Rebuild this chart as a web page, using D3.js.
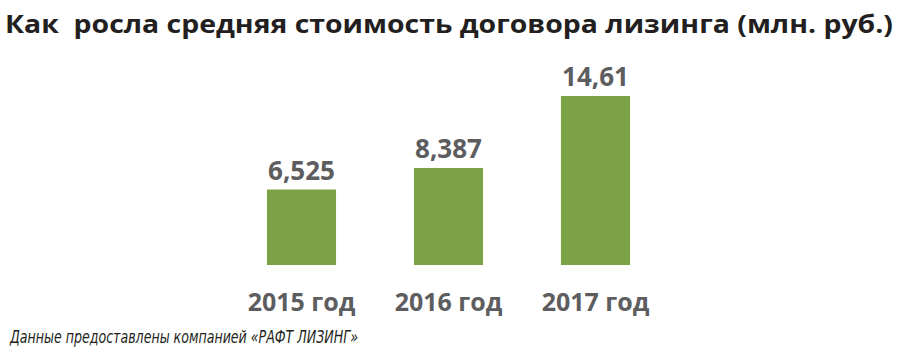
<!DOCTYPE html>
<html>
<head>
<meta charset="utf-8">
<script src="https://cdn.jsdelivr.net/npm/d3@7"></script>
<style>
    body { margin: 0; background: #fff; }
    text { white-space: pre; }
</style>
</head>
<body>
<div id="chart"></div>
<script>
// data
const years = ["2015 год", "2016 год", "2017 год"];
const values = [6.525, 8.387, 14.61];
const valueLabels = ["6,525", "8,387", "14,61"];

const titleText = "Как  росла средняя стоимость договора лизинга (млн. руб.)";
const sourceText = "Данные предоставлены компанией «РАФТ ЛИЗИНГ»";

let width = 900, height = 352;

let svg = d3.select("#chart").append("svg")
    .attr("width", width)
    .attr("height", height);

// scales
let x = d3.scaleBand()
    .domain(years)
    .range([228, 669])
    .paddingInner(0.53)
    .paddingOuter(0.265);

let y = d3.scaleLinear()
    .domain([0, d3.max(values)])
    .range([265, 96]);

let rows = years.map((d, i) => ({year: d, value: values[i], label: valueLabels[i]}));

// title
svg.append("text")
    .attr("x", 5)
    .attr("y", 33)
    .attr("font-family", "'Open Sans', sans-serif")
    .attr("font-weight", "bold")
    .attr("font-size", "25px")
    .attr("fill", "#231f20")
    .attr("textLength", 888)
    .attr("lengthAdjust", "spacingAndGlyphs")
    .text(titleText);

// bars
svg.selectAll(".bar")
    .data(rows)
    .enter()
    .append("rect")
    .attr("class", "bar")
    .attr("x", d => x(d.year))
    .attr("y", d => y(d.value))
    .attr("width", x.bandwidth())
    .attr("height", d => y(0) - y(d.value))
    .attr("fill", "#7ba345");

// value labels
svg.selectAll(".value-label")
    .data(rows)
    .enter()
    .append("text")
    .attr("class", "value-label")
    .attr("x", d => x(d.year) + x.bandwidth() / 2)
    .attr("y", d => y(d.value) - 10)
    .attr("text-anchor", "middle")
    .attr("font-family", "'Open Sans', sans-serif")
    .attr("font-weight", "bold")
    .attr("font-size", "26px")
    .attr("fill", "#5d5d5f")
    .text(d => d.label);

// category labels
svg.selectAll(".year-label")
    .data(rows)
    .enter()
    .append("text")
    .attr("class", "year-label")
    .attr("x", d => x(d.year) + x.bandwidth() / 2)
    .attr("y", 311)
    .attr("text-anchor", "middle")
    .attr("font-family", "'Open Sans', sans-serif")
    .attr("font-weight", "bold")
    .attr("font-size", "25px")
    .attr("fill", "#5d5d5f")
    .text(d => d.year);

// source note
svg.append("text")
    .attr("x", 10)
    .attr("y", 343)
    .attr("font-family", "'Liberation Sans Narrow', 'DejaVu Sans Condensed', sans-serif")
    .attr("font-style", "italic")
    .attr("font-size", "17px")
    .attr("fill", "#231f20")
    .attr("textLength", 348)
    .attr("lengthAdjust", "spacingAndGlyphs")
    .text(sourceText);
</script>
</body>
</html>
